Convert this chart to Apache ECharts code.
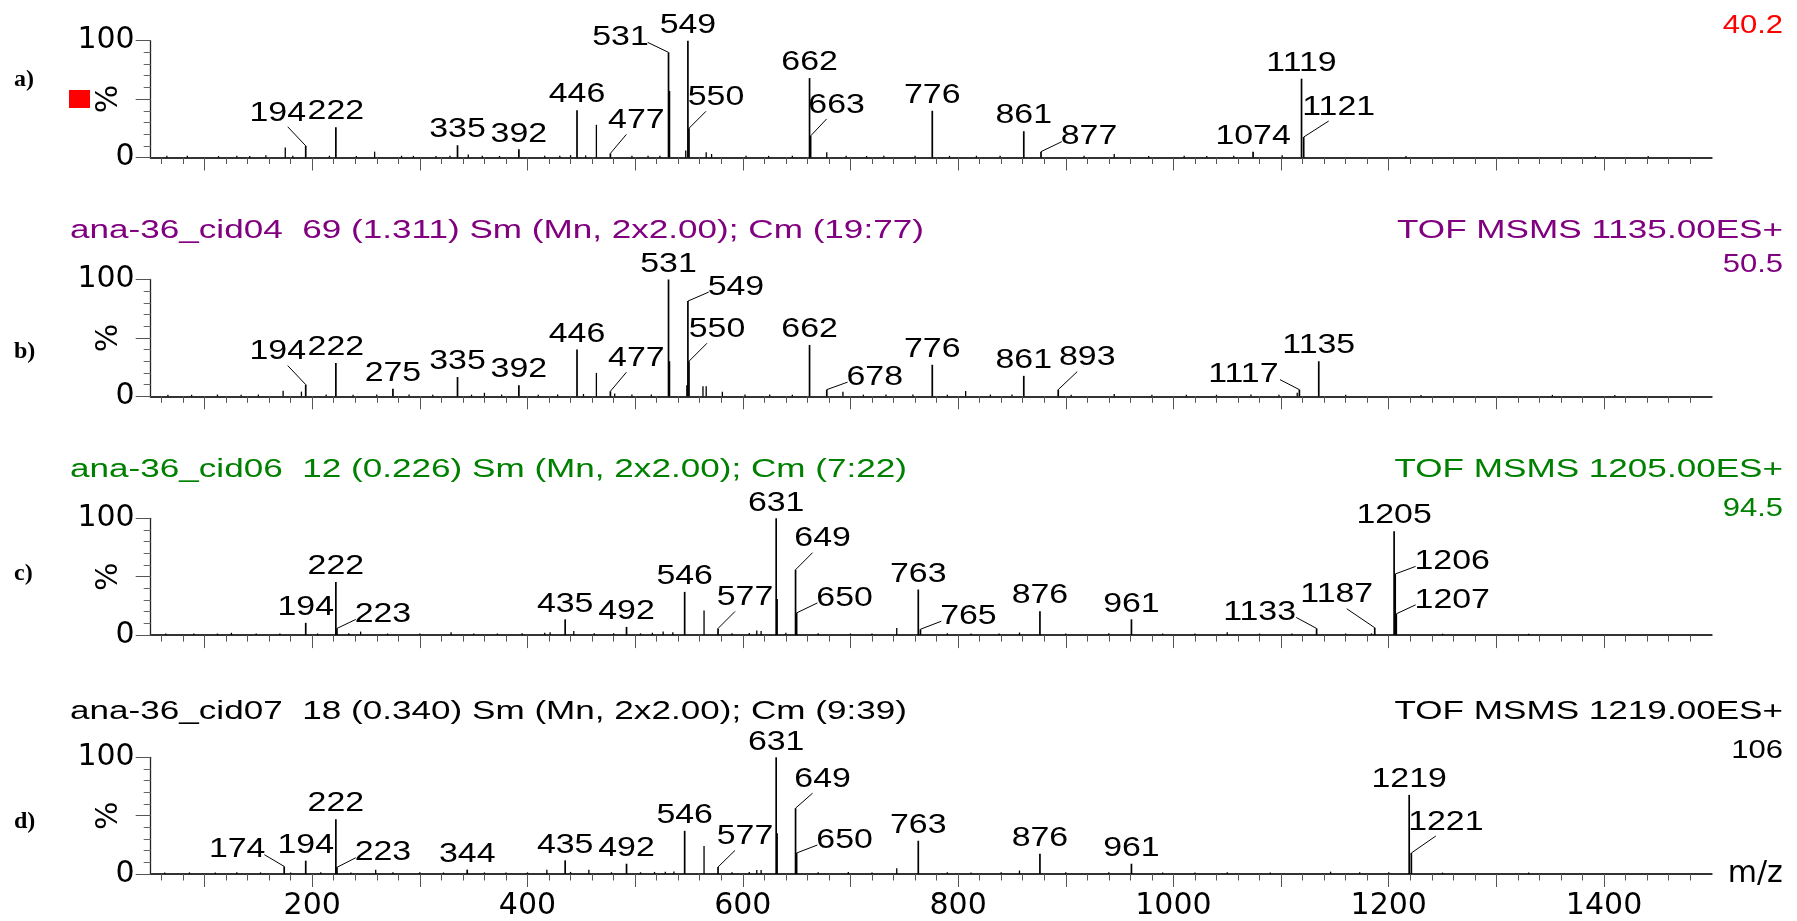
<!DOCTYPE html>
<html>
<head>
<meta charset="utf-8">
<title>MS/MS spectra</title>
<script src="https://cdn.jsdelivr.net/npm/echarts@6.0.0/dist/echarts.min.js"></script>
<style>
  html, body { margin: 0; padding: 0; background: #fff; }
  #chart { width: 1797px; height: 921px; }
</style>
</head>
<body>
<div id="chart"></div>
<script>
// ---------- spectrum data: [m/z, relative intensity %] ----------
// labelled peaks (the label is the m/z value)
const peaksA = [[194,10],[222,26],[335,10.5],[392,7],[446,40.5],[477,3.5],[531,90],[549,100],[550,25],
  [662,68],[663,18.5],[776,40],[861,22.5],[877,5],[1074,5],[1119,67.5],[1121,17.5]];
const peaksB = [[194,10],[222,28.5],[275,6.5],[335,16.5],[392,9.5],[446,40],[477,4.3],[531,100],[549,81.5],
  [550,30],[662,44],[678,5.7],[776,27],[861,17.5],[893,5.7],[1117,5.7],[1135,30]];
const peaksC = [[194,10.5],[222,45.5],[223,5.7],[435,13.5],[492,7],[546,37],[577,5.7],[631,100],[649,56],
  [650,19],[763,39],[765,5],[876,20.5],[961,13.5],[1133,5.7],[1187,6.3],[1205,89],[1206,52.3],[1207,18.2]];
const peaksD = [[174,6.5],[194,11.4],[222,47],[223,5.7],[344,3.7],[435,11.7],[492,8.8],[546,37],[577,6],
  [631,100],[649,56.4],[650,18],[763,28.5],[876,17.4],[961,8.8],[1219,67.8],[1221,18]];

// unlabelled peaks and baseline noise
const minorA = [[65,1.5],[84,1.5],[113,1.2],[130,1.6],[142,1.3],[157,2],[175,8.5],[182,1.5],[216,1.5],[241,1.3],
  [258,5],[283,1.5],[294,1.4],[315,1.3],[328,1.6],[345,2.5],[358,1.5],[374,1.3],[416,1.5],[430,1.6],[440,2],
  [454,1.8],[464,28],[497,1.4],[512,1.6],[523,1.5],[532,57],[547,6],[566,4.5],[571,3],[603,1.5],[624,1.4],
  [646,1.6],[678,4.5],[696,1.4],[715,1.3],[731,1.5],[760,1.6],[792,1.4],[817,1.5],[839,1.6],[917,1.4],
  [945,3],[977,1.3],[1010,1.4],[1031,1.3],[1056,1.4],[1101,2],[1216,1.3],[1392,1.2],[1441,1.2]];
const minorB = [[66,1.4],[88,1.3],[112,1.5],[134,1.3],[150,1.5],[173,4.8],[190,4],[213,1.5],[238,1.4],[260,1.6],
  [290,1.5],[312,1.3],[348,1.4],[360,3],[376,1.5],[410,1.4],[428,1.6],[452,2],[464,20],[481,2.5],[497,1.5],
  [515,1.6],[532,30],[548,9.5],[563,8.5],[566,8.5],[581,4],[602,1.5],[625,1.6],[646,1.4],[693,4],[712,1.4],
  [733,1.5],[758,1.6],[790,1.4],[807,4.5],[830,1.5],[850,1.5],[905,1.4],[945,2],[980,1.4],[1012,1.4],
  [1040,1.3],[1072,1.5],[1098,1.4],[1115,3],[1160,1.3],[1230,1.2],[1352,1.2],[1410,1.2]];
const minorC = [[64,1.3],[90,1.4],[112,1.3],[125,2],[148,1.4],[170,1.3],[205,1.4],[234,1.5],[245,3],[270,1.4],
  [300,1.3],[329,2.5],[350,1.3],[372,1.4],[395,1.5],[416,2],[421,2.5],[443,3.5],[462,1.5],[480,1.6],
  [505,1.5],[516,2],[526,3],[535,2.5],[564,21],[590,1.6],[606,1.8],[613,4],[617,3.5],[632,31],[640,2],
  [670,1.5],[700,1.4],[720,1.3],[743,6],[790,1.5],[812,1.4],[838,1.3],[857,2.2],[900,1.4],[940,1.5],
  [990,1.4],[1020,1.3],[1050,2.5],[1080,1.3],[1110,1.3],[1160,1.4],[1184,1.5],[1250,1.2],[1330,1.2]];
const minorD = [[63,1.3],[86,1.4],[110,1.3],[130,1.5],[152,1.4],[180,1.3],[208,1.4],[236,1.3],[259,3.7],
  [275,1.4],[300,1.4],[322,1.3],[360,1.4],[380,1.3],[400,1.4],[418,3.7],[440,1.8],[457,3.7],[478,1.5],
  [505,1.5],[518,1.8],[528,2],[536,2.2],[564,24],[590,1.6],[606,1.8],[613,3.5],[617,3.5],[632,35],
  [670,1.4],[698,1.8],[720,1.3],[743,5],[790,1.5],[812,1.3],[840,1.4],[857,3],[900,1.4],[940,1.5],
  [990,1.3],[1020,1.3],[1050,1.5],[1090,1.3],[1146,2],[1173,1.5],[1200,1.5],[1250,1.2],[1330,1.2]];

// ---------- text ----------
const headerLeft = ['', 'ana-36_cid04  69 (1.311) Sm (Mn, 2x2.00); Cm (19:77)',
  'ana-36_cid06  12 (0.226) Sm (Mn, 2x2.00); Cm (7:22)',
  'ana-36_cid07  18 (0.340) Sm (Mn, 2x2.00); Cm (9:39)'];
const headerRight = ['', 'TOF MSMS 1135.00ES+', 'TOF MSMS 1205.00ES+', 'TOF MSMS 1219.00ES+'];
const baseIntensity = ['40.2', '50.5', '94.5', '106'];
const panelLetters = ['a)', 'b)', 'c)', 'd)'];
const mzTickLabels = [200, 400, 600, 800, 1000, 1200, 1400];
const pctTickLabels = [0, 100];

// ---------- layout & style ----------
const panelColors = ['#ff0000', '#800080', '#008000', '#000000'];
const gridTops = [40.7, 279.5, 518.3, 757.3];
const letterY = [80, 352, 573.5, 822];
const headerY = [0, 231, 470, 712];
const valueY = [25.8, 264.5, 509, 751];
const GRID_LEFT = 150.7, GRID_W = 1561, GRID_H = 116.8;
const TEXT_RIGHT = 1783;
const SANS = 'Liberation Sans';
const AXIS_FONT = 'DejaVu Sans';

// label displacement [dx, dy] from the peak apex, drawn with a guide line
const calloutsA = {194:[-28,-33],477:[26,-33],531:[-48,-15],550:[27,-31],663:[26,-31],877:[48,-15],1121:[35,-30]};
const calloutsB = {194:[-28,-33],477:[26,-33],549:[48,-14],550:[28,-32],678:[48,-12.5],893:[29,-32],1117:[-56,-15]};
const calloutsC = {223:[46,-14],577:[27,-31],649:[27,-31],650:[48,-15],765:[48,-13],1133:[-57,-16],
  1187:[-38,-33],1206:[57,-12.6],1207:[56,-14]};
const calloutsD = {174:[-47,-16.7],223:[46,-14.6],577:[27,-30.6],649:[27,-29],650:[48,-13],1221:[34.5,-31]};

const labelled = [peaksA, peaksB, peaksC, peaksD];
const unlabelled = [minorA, minorB, minorC, minorD];
const callouts = [calloutsA, calloutsB, calloutsC, calloutsD];

const majorTicks = [100, 200, 300, 400, 500, 600, 700, 800, 900, 1000, 1100, 1200, 1300, 1400];
const minorTicks = [];
for (let t = 60; t < 1500; t += 20) if (t % 100 !== 0) minorTicks.push(t);

// draws one spectrum stick, plus its m/z label when requested
function stickRenderer(offsets, withLabel) {
  return function (params, api) {
    const mz = api.value(0);
    const pct = api.value(1);
    const top = api.coord([mz, pct]);
    const base = api.coord([mz, 0]);
    const kids = [{
      type: 'line',
      shape: { x1: base[0], y1: base[1], x2: top[0], y2: top[1] },
      style: { stroke: '#000', lineWidth: withLabel ? 1.7 : 1.3 }
    }];
    if (withLabel) {
      const txt = String(mz);
      const off = offsets[mz];
      let cx = top[0], cy = top[1] - 15.5;
      if (off) {
        cx = top[0] + off[0];
        cy = top[1] + off[1];
        const dir = Math.sign(off[0]);
        const halfW = (txt.length * 18.8 - 4) / 2;
        let sx, sy;
        if (off[1] <= -22) { sx = cx - dir * 10; sy = cy + 14; }
        else { sx = cx - dir * (halfW + 1); sy = cy + 5; }
        kids.push({
          type: 'line',
          shape: { x1: sx, y1: sy, x2: top[0], y2: top[1] },
          style: { stroke: '#000', lineWidth: 1 }
        });
      }
      kids.push({
        type: 'text', x: cx, y: cy, scaleX: 1.21,
        style: {
          text: txt, x: 0, y: 0, fill: '#000', fontSize: 28, fontFamily: SANS,
          align: 'center', verticalAlign: 'middle', textAlign: 'center', textVerticalAlign: 'middle'
        }
      });
    }
    return { type: 'group', children: kids };
  };
}

const grid = [], xAxis = [], yAxis = [], series = [];
for (let i = 0; i < 4; i++) {
  grid.push({ left: GRID_LEFT, top: gridTops[i], width: GRID_W, height: GRID_H });
}
// data axes with long ticks (and labels on the bottom panel)
for (let i = 0; i < 4; i++) {
  const last = i === 3;
  xAxis.push({
    gridIndex: i, type: 'value', min: 50, max: 1500,
    axisLine: { show: true, onZero: false, lineStyle: { color: '#333', width: 2 } },
    axisTick: { show: true, customValues: majorTicks, length: 13, lineStyle: { color: '#555', width: 1 } },
    axisLabel: { show: last, customValues: mzTickLabels, margin: 17, fontFamily: AXIS_FONT, fontSize: 30,
      color: '#000', formatter: function (v) { return String(v); } },
    splitLine: { show: false },
    name: last ? 'm/z' : '',
    nameLocation: 'end', nameGap: 16, nameMoveOverlap: false,
    nameTextStyle: { fontFamily: AXIS_FONT, fontSize: 30, color: '#000', verticalAlign: 'middle', padding: [8, 0, 0, 0] }
  });
}
// companion axes carrying the short 20-unit ticks
for (let i = 0; i < 4; i++) {
  xAxis.push({
    gridIndex: i, type: 'value', min: 50, max: 1500, position: 'bottom',
    axisLine: { show: false },
    axisTick: { show: true, customValues: minorTicks, length: 6.5, lineStyle: { color: '#555', width: 1 } },
    axisLabel: { show: false }, splitLine: { show: false }
  });
}
for (let i = 0; i < 4; i++) {
  yAxis.push({
    gridIndex: i, type: 'value', min: 0, max: 100, interval: 10,
    axisLine: { show: true, lineStyle: { color: '#222', width: 1.3 } },
    axisTick: { show: true, length: 7, lineStyle: { color: '#666', width: 1 } },
    axisLabel: { show: true, customValues: pctTickLabels, margin: 16, fontFamily: AXIS_FONT, fontSize: 30,
      color: '#000', formatter: function (v) { return String(v); } },
    splitLine: { show: false },
    name: '%', nameLocation: 'middle', nameRotate: 90, nameGap: 26, nameMoveOverlap: false,
    nameTextStyle: { fontFamily: AXIS_FONT, fontSize: 30, color: '#000' }
  });
}
for (let i = 0; i < 4; i++) {
  yAxis.push({
    gridIndex: i, type: 'value', min: 0, max: 100, position: 'left',
    axisLine: { show: false },
    axisTick: { show: true, customValues: [0, 50, 100], length: 15, lineStyle: { color: '#555', width: 1 } },
    axisLabel: { show: false }, splitLine: { show: false }
  });
}
for (let i = 0; i < 4; i++) {
  series.push({
    type: 'custom', name: 'noise ' + panelLetters[i], xAxisIndex: i, yAxisIndex: i,
    data: unlabelled[i], encode: { x: 0, y: 1 }, clip: false, z: 2,
    renderItem: stickRenderer(null, false)
  });
  series.push({
    type: 'custom', name: 'peaks ' + panelLetters[i], xAxisIndex: i, yAxisIndex: i,
    data: labelled[i], encode: { x: 0, y: 1 }, clip: false, z: 3,
    renderItem: stickRenderer(callouts[i], true)
  });
}

// header lines, base-peak intensities, panel letters and the marker square
const graphics = [];
for (let i = 0; i < 4; i++) {
  const col = panelColors[i];
  if (headerLeft[i]) {
    graphics.push({
      type: 'text', x: 70, y: headerY[i], scaleX: 1.35,
      style: { text: headerLeft[i], x: 0, y: 0, fill: col, fontSize: 26, fontFamily: SANS,
        align: 'left', verticalAlign: 'middle', textAlign: 'left', textVerticalAlign: 'middle' }
    });
    graphics.push({
      type: 'text', x: TEXT_RIGHT, y: headerY[i], scaleX: 1.35,
      style: { text: headerRight[i], x: 0, y: 0, fill: col, fontSize: 26, fontFamily: SANS,
        align: 'right', verticalAlign: 'middle', textAlign: 'right', textVerticalAlign: 'middle' }
    });
  }
  graphics.push({
    type: 'text', x: TEXT_RIGHT, y: valueY[i], scaleX: 1.17,
    style: { text: baseIntensity[i], x: 0, y: 0, fill: col, fontSize: 26.5, fontFamily: SANS,
      align: 'right', verticalAlign: 'middle', textAlign: 'right', textVerticalAlign: 'middle' }
  });
  graphics.push({
    type: 'text', x: 14, y: letterY[i],
    style: { text: panelLetters[i], x: 0, y: 0, fill: '#000', fontSize: 24, fontWeight: 'bold',
      fontFamily: 'Liberation Serif', align: 'left', verticalAlign: 'middle', textAlign: 'left', textVerticalAlign: 'middle' }
  });
}
graphics.push({ type: 'rect', shape: { x: 69, y: 90, width: 21, height: 18 }, style: { fill: '#ff0000' } });

const chart = echarts.init(document.getElementById('chart'), null, { renderer: 'canvas' });
chart.setOption({
  backgroundColor: '#ffffff',
  animation: false,
  grid, xAxis, yAxis, series,
  graphic: { elements: graphics }
});
</script>
</body>
</html>
